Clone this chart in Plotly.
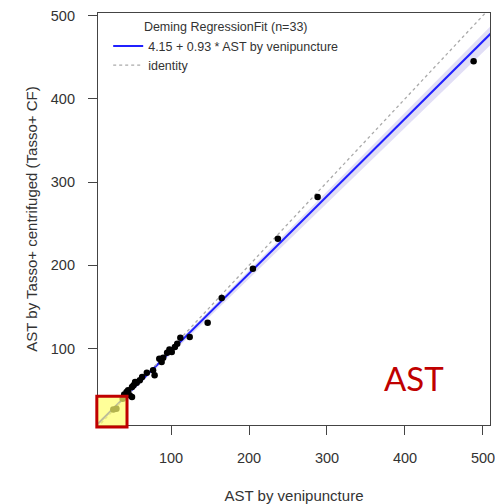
import plotly.graph_objects as go

# Data
venipuncture = [488, 288, 237, 205, 165, 147, 124, 112, 105, 101, 95, 90, 88, 79, 77, 69,
                60, 56, 54, 50, 45, 43, 47, 50, 40, 52, 63, 85, 98, 108, 38, 30, 26]
tasso_cf = [445, 282, 232, 196, 161, 131, 114, 113, 102, 96, 95, 89, 84, 68, 74, 71,
            62, 59, 60, 54, 50, 48, 44, 42, 45, 56, 66, 88, 99, 106, 40, 28, 27]

intercept = 4.15
slope = 0.93
line_x = [0, 520]
fit_y = [intercept + slope * v for v in line_x]
band_lo = [3, 474]
band_hi = [5, 497]
identity = [0, 520]

x_ticks = [100, 200, 300, 400, 500]
y_ticks = [100, 200, 300, 400, 500]

FONT = "Liberation Sans"
TXT = "#333"

fig = go.Figure()
fig.add_trace(go.Scatter(x=line_x, y=band_lo, mode="lines", line=dict(width=0),
                         hoverinfo="skip", showlegend=False))
fig.add_trace(go.Scatter(x=line_x, y=band_hi, mode="lines", line=dict(width=0),
                         fill="tonexty", fillcolor="rgba(200,195,238,0.55)",
                         hoverinfo="skip", showlegend=False))
fig.add_trace(go.Scatter(x=line_x, y=fit_y, mode="lines",
                         line=dict(color="#2020ff", width=2),
                         name="4.15 + 0.93 * AST by venipuncture"))
fig.add_trace(go.Scatter(x=line_x, y=identity, mode="lines",
                         line=dict(color="#aaaaaa", width=1.3, dash="3px,3px"),
                         name="identity"))
fig.add_trace(go.Scatter(x=venipuncture, y=tasso_cf, mode="markers",
                         marker=dict(color="black", size=6.5), showlegend=False))

fig.add_shape(type="rect", xref="paper", yref="paper", x0=-0.003, x1=0.074, y0=-0.005, y1=0.07,
              line=dict(color="#c00000", width=3), fillcolor="rgba(255,255,110,0.7)", layer="above")

fig.add_annotation(text="AST", xref="paper", yref="paper", x=(414 - 98) / 392, y=(425 - 378) / 412,
                   xanchor="center", yanchor="middle",
                   showarrow=False, font=dict(family="Lato", size=33, color="#c00000"))

axis_common = dict(showline=True, mirror=True, linecolor="#444", linewidth=1.2, automargin=False,
                   ticks="outside", ticklen=9, tickcolor="#444", showgrid=False, zeroline=False,
                   ticklabeloverflow="allow",
                   tickfont=dict(family=FONT, size=14.5, color=TXT))

fig.update_xaxes(range=[6.4, 509], tickvals=x_ticks, ticklabelstandoff=10,
                 title=dict(text="AST by venipuncture", standoff=30,
                            font=dict(family=FONT, size=15, color=TXT)), **axis_common)
fig.update_yaxes(range=[8.4, 503], tickvals=y_ticks, ticklabelstandoff=10,
                 title=dict(text="AST by Tasso+ centrifuged (Tasso+ CF)", standoff=9,
                            font=dict(family=FONT, size=15, color=TXT)), **axis_common)

fig.update_layout(
    width=495, height=504,
    margin=dict(l=98, r=5, t=13, b=79),
    plot_bgcolor="white", paper_bgcolor="white",
    legend=dict(x=0.026, y=0.995, xanchor="left", yanchor="top", bgcolor="rgba(0,0,0,0)",
                traceorder="normal",
                title=dict(text="Deming RegressionFit (n=33)", side="top center",
                           font=dict(family=FONT, size=12.5, color=TXT)),
                font=dict(family=FONT, size=12.5, color=TXT),
                tracegroupgap=0, itemwidth=30),
)

fig.write_html("out.html", config={"displayModeBar": False},
               post_script="document.body.style.margin='0px';document.body.style.overflow='hidden';")
